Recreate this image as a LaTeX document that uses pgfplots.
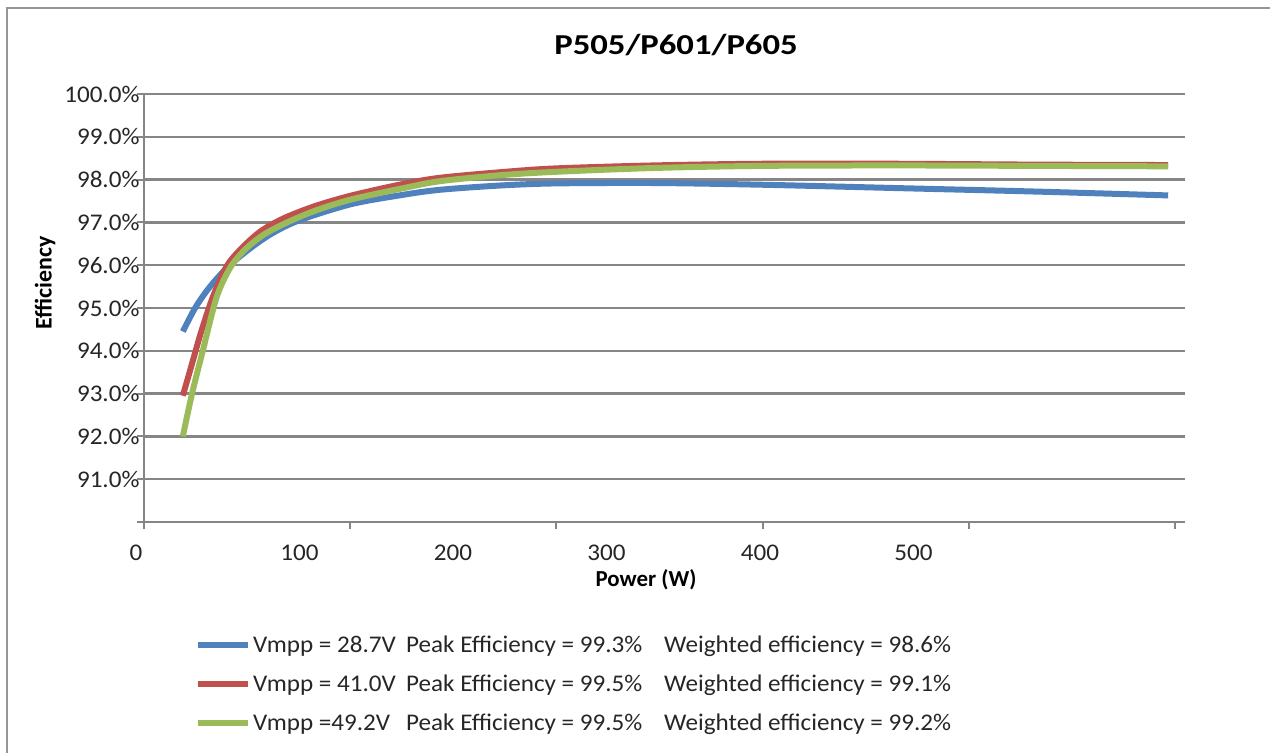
\documentclass[border=0pt]{standalone}
\usepackage{fontspec}
\setmainfont{Carlito}
\newfontfamily\titlefont{Carlito}[FakeStretch=1.2]
\newfontfamily\tickfont{Carlito}[FakeStretch=1.05]
\usepackage{pgfplots}
\pgfplotsset{compat=1.18}
\definecolor{cblue}{RGB}{79,129,189}
\definecolor{cred}{RGB}{192,80,77}
\definecolor{cgreen}{RGB}{155,187,89}
\definecolor{gridgray}{RGB}{134,134,134}
\definecolor{framegray}{RGB}{150,150,150}
\begin{document}
\begin{tikzpicture}[x=1bp,y=1bp]
\useasboundingbox (0,0) rectangle (1270,753);
\draw[framegray, line width=2.5bp] (7,0) -- (7,745) -- (1270,745);
\begin{axis}[
  at={(144bp,231bp)}, anchor=south west,
  scale only axis, width=1041bp, height=428bp,
  xmin=-1.3, xmax=677, ymin=90, ymax=100,
  axis x line*=bottom, axis y line*=left,
  axis line style={gridgray, line width=2.5bp, -},
  every tick/.style={gridgray, line width=2bp},
  tick align=outside,
  xtick={-1.3,133.0,267.4,401.7,536.0,670.4},
  xticklabels={},
  major tick length=7bp,
  extra x ticks={100,200,300,400,500},
  extra x tick labels={100,200,300,400,500},
  extra x tick style={major tick length=0pt, xticklabel style={yshift=-19bp}},
  ytick={90,91,92,93,94,95,96,97,98,99,100},
  yticklabels={,91.0\%,92.0\%,93.0\%,94.0\%,95.0\%,96.0\%,97.0\%,98.0\%,99.0\%,100.0\%},
  yticklabel style={xshift=6bp},
  ymajorgrids,
  major grid style={gridgray, line width=2.5bp},
  tick label style={font=\tickfont\fontsize{24}{28}\selectfont, text=black!85},
  /pgf/number format/assume math mode=true,
  legend style={draw=none, fill=none, at={(axis description cs:0.049,-0.262)}, anchor=north west,
    font=\tickfont\fontsize{24}{28}\selectfont, row sep=16.5bp, inner sep=0pt,
    nodes={inner sep=2bp, text=black!85}},
  legend cell align=left,
  legend image code/.code={\draw[#1, line width=6bp] (0bp,0bp) -- (50bp,0bp);},
]
\addplot[cblue, line width=6bp, smooth] coordinates {
(24,94.45) (32,95.0) (40,95.42) (48,95.76) (56,96.05) (70,96.45) (83,96.76) (100,97.05)
(133,97.42) (165,97.63) (191,97.76) (230,97.86) (266,97.91) (330,97.92) (401,97.88)
(491,97.8) (580,97.72) (666,97.63)};
\addlegendentry{\makebox[153bp][l]{Vmpp = 28.7V}\makebox[258bp][l]{Peak Efficiency = 99.3\%}Weighted efficiency = 98.6\%}
\addplot[cred, line width=6bp, smooth] coordinates {
(24,92.95) (30,93.7) (36,94.45) (44,95.3) (53,96.0) (63,96.42) (75,96.8) (90,97.1)
(110,97.38) (133,97.62) (165,97.88) (191,98.04) (230,98.17) (266,98.26) (330,98.33) (401,98.37)
(491,98.37) (580,98.35) (666,98.34)};
\addlegendentry{\makebox[153bp][l]{Vmpp = 41.0V}\makebox[258bp][l]{Peak Efficiency = 99.5\%}Weighted efficiency = 99.1\%}
\addplot[cgreen, line width=6bp, smooth] coordinates {
(24,92.0) (30,93.0) (37,94.0) (46,95.25) (55,95.95) (65,96.38) (77,96.72) (92,97.0)
(110,97.27) (133,97.53) (165,97.78) (191,97.96) (230,98.1) (266,98.18) (330,98.27) (401,98.32)
(491,98.33) (580,98.32) (666,98.31)};
\addlegendentry{\makebox[153bp][l]{Vmpp =49.2V}\makebox[258bp][l]{Peak Efficiency = 99.5\%}Weighted efficiency = 99.2\%}
\end{axis}
\node[font=\tickfont\fontsize{24}{28}\selectfont, text=black!85] at (136,200) {0};
\node[font=\titlefont\bfseries\fontsize{29}{34}\selectfont] at (676,708) {P505/P601/P605};
\node[font=\bfseries\fontsize{23}{27}\selectfont] at (646,173) {Power (W)};
\node[font=\bfseries\fontsize{24}{28}\selectfont, rotate=90] at (45,470) {Efficiency};
\end{tikzpicture}
\end{document}
